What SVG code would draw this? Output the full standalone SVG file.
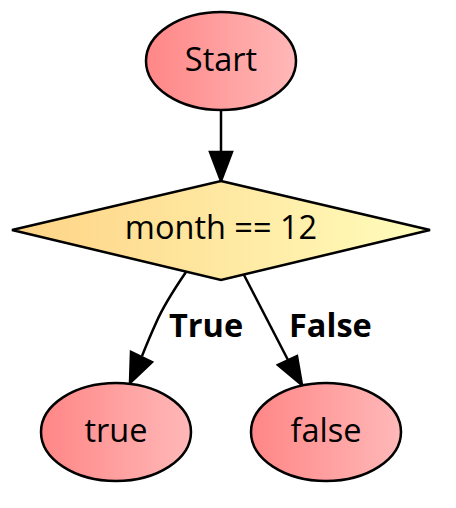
<svg xmlns="http://www.w3.org/2000/svg" width="456" height="508" viewBox="0 0 456 508">
<defs>
<linearGradient id="gRed" x1="0" y1="0" x2="1" y2="0">
<stop offset="0" stop-color="#ff8686"/>
<stop offset="1" stop-color="#ffb8b8"/>
</linearGradient>
<linearGradient id="gYel" x1="0" y1="0" x2="1" y2="0">
<stop offset="0" stop-color="#fed386"/>
<stop offset="1" stop-color="#fffdbc"/>
</linearGradient>
</defs>
<style>
.node { stroke:#000; stroke-width:2.5; }
.t { font-family:"Open Sans","Noto Sans",sans-serif; font-size:32.5px; fill:#000; text-anchor:middle; }
.lbl { font-family:"Open Sans","Noto Sans",sans-serif; font-size:32.5px; font-weight:bold; fill:#000; }
.edge { fill:none; stroke:#000; stroke-width:2.5; }
.head { fill:#000; stroke:#000; stroke-width:2.5; stroke-linejoin:miter; }
</style>
<rect width="456" height="508" fill="#fff"/>
<g id="edges">
<path class="edge" d="M221,110 L221,152"/>
<polygon class="head" points="210,152 232,152 221,181"/>
<path class="edge" d="M186,272 C173,291 162,309 156,323 C151,334 146,346 142,356"/>
<polygon class="head" points="131,352 152,362 130,383"/>
<path class="edge" d="M244,275 L288,360"/>
<polygon class="head" points="278,365 297,356 302,385"/>
<text class="lbl" x="169" y="337">True</text>
<text class="lbl" x="289" y="337">False</text>
</g>
<g id="start">
<ellipse class="node" cx="221" cy="61" rx="75" ry="49" fill="url(#gRed)"/>
<text class="t" x="221" y="71">Start</text>
</g>
<g id="decision">
<polygon class="node" points="221,181 430,230 221,280 12,230" fill="url(#gYel)"/>
<text class="t" x="221" y="239">month == 12</text>
</g>
<g id="true">
<ellipse class="node" cx="116" cy="432" rx="75" ry="49" fill="url(#gRed)"/>
<text class="t" x="116" y="442">true</text>
</g>
<g id="false">
<ellipse class="node" cx="326" cy="432" rx="75" ry="49" fill="url(#gRed)"/>
<text class="t" x="326" y="442">false</text>
</g>
</svg>
